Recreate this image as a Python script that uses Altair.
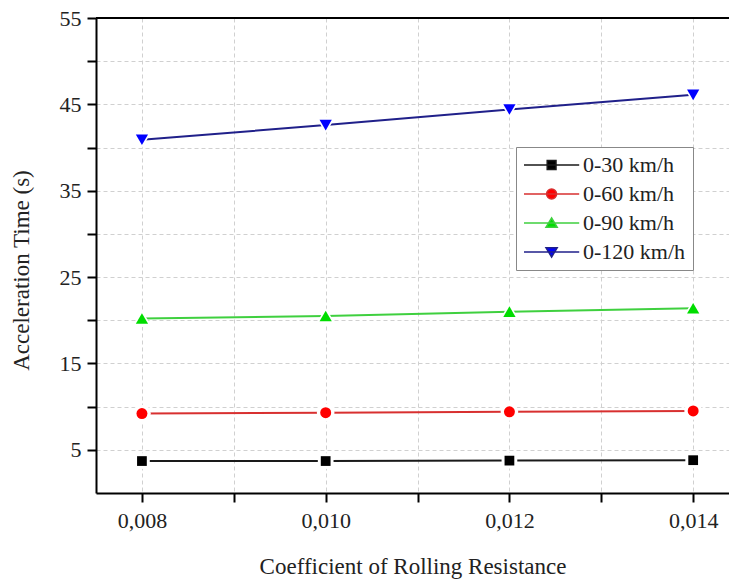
import altair as alt
import pandas as pd

# Rolling-resistance coefficients and the acceleration times for each speed range
coefficients = [0.008, 0.010, 0.012, 0.014]
series_names = ["0-30 km/h", "0-60 km/h", "0-90 km/h", "0-120 km/h"]
time_0_30 = [3.7, 3.7, 3.75, 3.8]
time_0_60 = [9.2, 9.3, 9.4, 9.5]
time_0_90 = [20.2, 20.5, 21.0, 21.4]
time_0_120 = [40.9, 42.6, 44.4, 46.1]

y_ticks = [5, 10, 15, 20, 25, 30, 35, 40, 45, 50, 55]
x_ticks = [0.008, 0.009, 0.010, 0.011, 0.012, 0.013, 0.014]

marker_colors = ["#000000", "#ff0000", "#00dd00", "#0000ff"]
line_colors = ["#1a1a1a", "#d83030", "#3fd03f", "#20208a"]
marker_shapes = ["square", "circle", "triangle-up", "triangle-down"]
marker_sizes = [95, 120, 150, 150]

# Legend glyphs: a short line with the series marker in the middle
legend_glyphs = [
    "M-2.5,0H11.3M3.3,-1.1H5.5V1.1H3.3Z",
    "M-2.5,0H11.3M5.65,0A1.25,1.25 0 1,1 3.15,0A1.25,1.25 0 1,1 5.65,0Z",
    "M-2.5,0H11.3M4.4,-1.25L5.8,1.05H3.0Z",
    "M-2.5,0H11.3M4.4,1.25L5.8,-1.05H3.0Z",
]

rows = []
for name, values in zip(series_names, [time_0_30, time_0_60, time_0_90, time_0_120]):
    for c, t in zip(coefficients, values):
        rows.append({"Coefficient": c, "Time": t, "Speed": name})
df = pd.DataFrame(rows)

FONT = "Liberation Serif"

x_enc = alt.X(
    "Coefficient:Q",
    scale=alt.Scale(domain=[0.0075, 0.01439], nice=False, zero=False),
    axis=alt.Axis(
        values=x_ticks,
        labelExpr="round(datum.value*1000) % 2 == 0 ? replace(format(datum.value, '.3f'), '.', ',') : ''",
        title="Coefficient of Rolling Resistance",
        titlePadding=24,
        labelPadding=8,
        grid=True,
    ),
)
y_enc = alt.Y(
    "Time:Q",
    scale=alt.Scale(domain=[0, 55], nice=False),
    axis=alt.Axis(
        values=y_ticks,
        labelExpr="datum.value % 10 == 5 ? datum.label : ''",
        title="Acceleration Time (s)",
        titlePadding=26,
        titleY=252,
        labelPadding=6,
        grid=True,
    ),
)

base = alt.Chart(df)

# top frame line of the plot area
top_frame = base.mark_rule(color="black", strokeWidth=2).encode(y=alt.datum(55))

series_layers = []
for name, lcol, mcol, shp, sz in zip(
    series_names, line_colors, marker_colors, marker_shapes, marker_sizes
):
    sub = base.transform_filter(alt.datum.Speed == name)
    line = sub.mark_line(color=lcol, strokeWidth=2).encode(x=x_enc, y=y_enc)
    # white halo leaves a small gap between marker and line
    halo = sub.mark_point(
        shape=shp, filled=True, color="white", size=sz * 2.6, opacity=1
    ).encode(x="Coefficient:Q", y="Time:Q")
    pts = sub.mark_point(
        shape=shp, filled=True, color=mcol, size=sz, opacity=1
    ).encode(x="Coefficient:Q", y="Time:Q")
    series_layers += [line, halo, pts]

series_legend = alt.Legend(
    title=None,
    orient="none",
    legendX=420,
    legendY=129,
    labelFont=FONT,
    labelFontSize=22,
    labelColor="#222222",
    symbolOpacity=1,
    symbolSize=64,
    symbolStrokeWidth=1.5,
    labelOffset=38,
    rowPadding=7,
    padding=7,
    strokeColor="#888888",
    fillColor="white",
)

# invisible layer that only carries the series legend
legend_layer = base.mark_point(filled=True, opacity=0, strokeWidth=1.5).encode(
    x="Coefficient:Q",
    y="Time:Q",
    shape=alt.Shape(
        "Speed:N",
        scale=alt.Scale(domain=series_names, range=legend_glyphs),
        legend=series_legend,
    ),
    fill=alt.Fill(
        "Speed:N",
        scale=alt.Scale(domain=series_names, range=marker_colors),
        legend=series_legend,
    ),
    stroke=alt.Stroke(
        "Speed:N",
        scale=alt.Scale(domain=series_names, range=line_colors),
        legend=series_legend,
    ),
)

chart = (
    alt.layer(*series_layers, top_frame, legend_layer)
    .properties(
        width=633,
        height=475,
        autosize=alt.AutoSizeParams(type="none"),
        padding={"left": 96, "top": 18, "right": 0, "bottom": 91},
    )
    .configure_view(strokeWidth=0)
    .configure_axis(
        labelFont=FONT,
        titleFont=FONT,
        labelFontSize=22,
        titleFontSize=23,
        titleFontWeight="normal",
        labelColor="#222222",
        titleColor="#222222",
        domainColor="black",
        domainWidth=2,
        tickColor="black",
        tickWidth=2,
        tickSize=9,
        gridColor="#d0d0d0",
        gridDash=[4, 3],
        gridWidth=1,
    )
    .configure_legend(
        labelFont=FONT,
        labelFontSize=22,
    )
)

chart.save("out.html", embed_options={"renderer": "svg", "actions": False})
